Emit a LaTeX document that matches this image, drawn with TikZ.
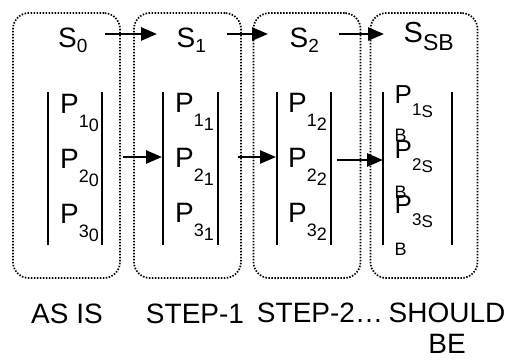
\documentclass[tikz,border=0pt]{standalone}
\usepackage{fontspec}
\setmainfont{Liberation Sans}
\usetikzlibrary{arrows.meta}
\newcommand\fs[1]{\fontsize{#1}{#1}\selectfont}
\newcommand\lo[2]{\raisebox{-#1pt}{#2}}
\begin{document}
\begin{tikzpicture}[x=1pt,y=-1pt,
  panel/.style={draw, line width=1.7pt, dash pattern=on 1.5pt off 1.5pt, rounded corners=16pt, minimum width=107pt, minimum height=265pt, inner sep=0pt},
  bar/.style={line width=2.6pt},
  arr/.style={line width=2.6pt, -{Triangle[length=16pt,width=13pt]}},
  lbl/.style={inner sep=0pt, anchor=base west},
  captxt/.style={inner sep=0pt, anchor=base, font=\fontsize{28}{31}\selectfont, align=center}]
\useasboundingbox (0,0) rectangle (508,359);
% panels
\node[panel] (box1) at (66.5,145.5) {};
\node[panel] (box2) at (187.5,145.5) {};
\node[panel] (box3) at (307,145.5) {};
\node[panel] (box4) at (424,145.5) {};
% states
\node[lbl] (s0) at (58,47) {\fs{28}S\lo{5}{\fs{19}0}};
\node[lbl] (s1) at (176.5,47) {\fs{28}S\lo{5}{\fs{19}1}};
\node[lbl] (s2) at (289.5,47) {\fs{28}S\lo{5}{\fs{19}2}};
\node[lbl] (ssb) at (403.5,42) {\fs{29}S\lo{8}{\fs{23}SB}};
% bars
\draw[bar] (48,92) -- (48,245);
\draw[bar] (102,92) -- (102,245);
\draw[bar] (163,92) -- (163,245);
\draw[bar] (218,92) -- (218,245);
\draw[bar] (277,92) -- (277,245);
\draw[bar] (331,92) -- (331,245);
\draw[bar] (383,92) -- (383,245);
\draw[bar] (452,92) -- (452,245);
% P labels
\node[lbl] (p10) at (60,113) {\fs{28}P\lo{14}{\fs{18}1\lo{4}{0}}};
\node[lbl] (p20) at (60,168) {\fs{28}P\lo{14}{\fs{18}2\lo{4}{0}}};
\node[lbl] (p30) at (60,223) {\fs{28}P\lo{14}{\fs{18}3\lo{4}{0}}};
\node[lbl] (p11) at (175,112) {\fs{28}P\lo{14}{\fs{18}1\lo{4}{1}}};
\node[lbl] (p21) at (175,167) {\fs{28}P\lo{14}{\fs{18}2\lo{4}{1}}};
\node[lbl] (p31) at (175,222) {\fs{28}P\lo{14}{\fs{18}3\lo{4}{1}}};
\node[lbl] (p12) at (288,112) {\fs{28}P\lo{14}{\fs{18}1\lo{4}{2}}};
\node[lbl] (p22) at (288,167) {\fs{28}P\lo{14}{\fs{18}2\lo{4}{2}}};
\node[lbl] (p32) at (288,222) {\fs{28}P\lo{14}{\fs{18}3\lo{4}{2}}};
\node[lbl] (p1sb) at (394.5,103) {\fs{26}P\lo{12}{\fs{17}1\lo{2}{S}}};
\node[lbl] (p2sb) at (394.5,158) {\fs{26}P\lo{12}{\fs{17}2\lo{2}{S}}};
\node[lbl] (p3sb) at (394.5,213) {\fs{26}P\lo{12}{\fs{17}3\lo{2}{S}}};
\node[lbl] (b1) at (394.5,141) {\fs{18}B};
\node[lbl] (b2) at (394.5,198) {\fs{18}B};
\node[lbl] (b3) at (394.5,255) {\fs{18}B};
% arrows between states
\coordinate (t1a) at (105,34); \coordinate (t1b) at (157,34);
\coordinate (t2a) at (227,34); \coordinate (t2b) at (268,34);
\coordinate (t3a) at (339,34); \coordinate (t3b) at (384,34);
\draw[arr] (t1a) -- (t1b);
\draw[arr] (t2a) -- (t2b);
\draw[arr] (t3a) -- (t3b);
% arrows between process sets
\coordinate (m1a) at (123,157); \coordinate (m1b) at (162,157);
\coordinate (m2a) at (238,157); \coordinate (m2b) at (276,157);
\coordinate (m3a) at (337,160); \coordinate (m3b) at (383,160);
\draw[arr] (m1a) -- (m1b);
\draw[arr] (m2a) -- (m2b);
\draw[arr] (m3a) -- (m3b);
% captions
\node[captxt] (c1) at (67,323) {AS IS};
\node[captxt] (c2) at (195,323) {STEP-1};
\node[captxt] (c3) at (320,322) {STEP-2…};
\node[captxt] (c4) at (447,353) {SHOULD\\BE};
\end{tikzpicture}
\end{document}
